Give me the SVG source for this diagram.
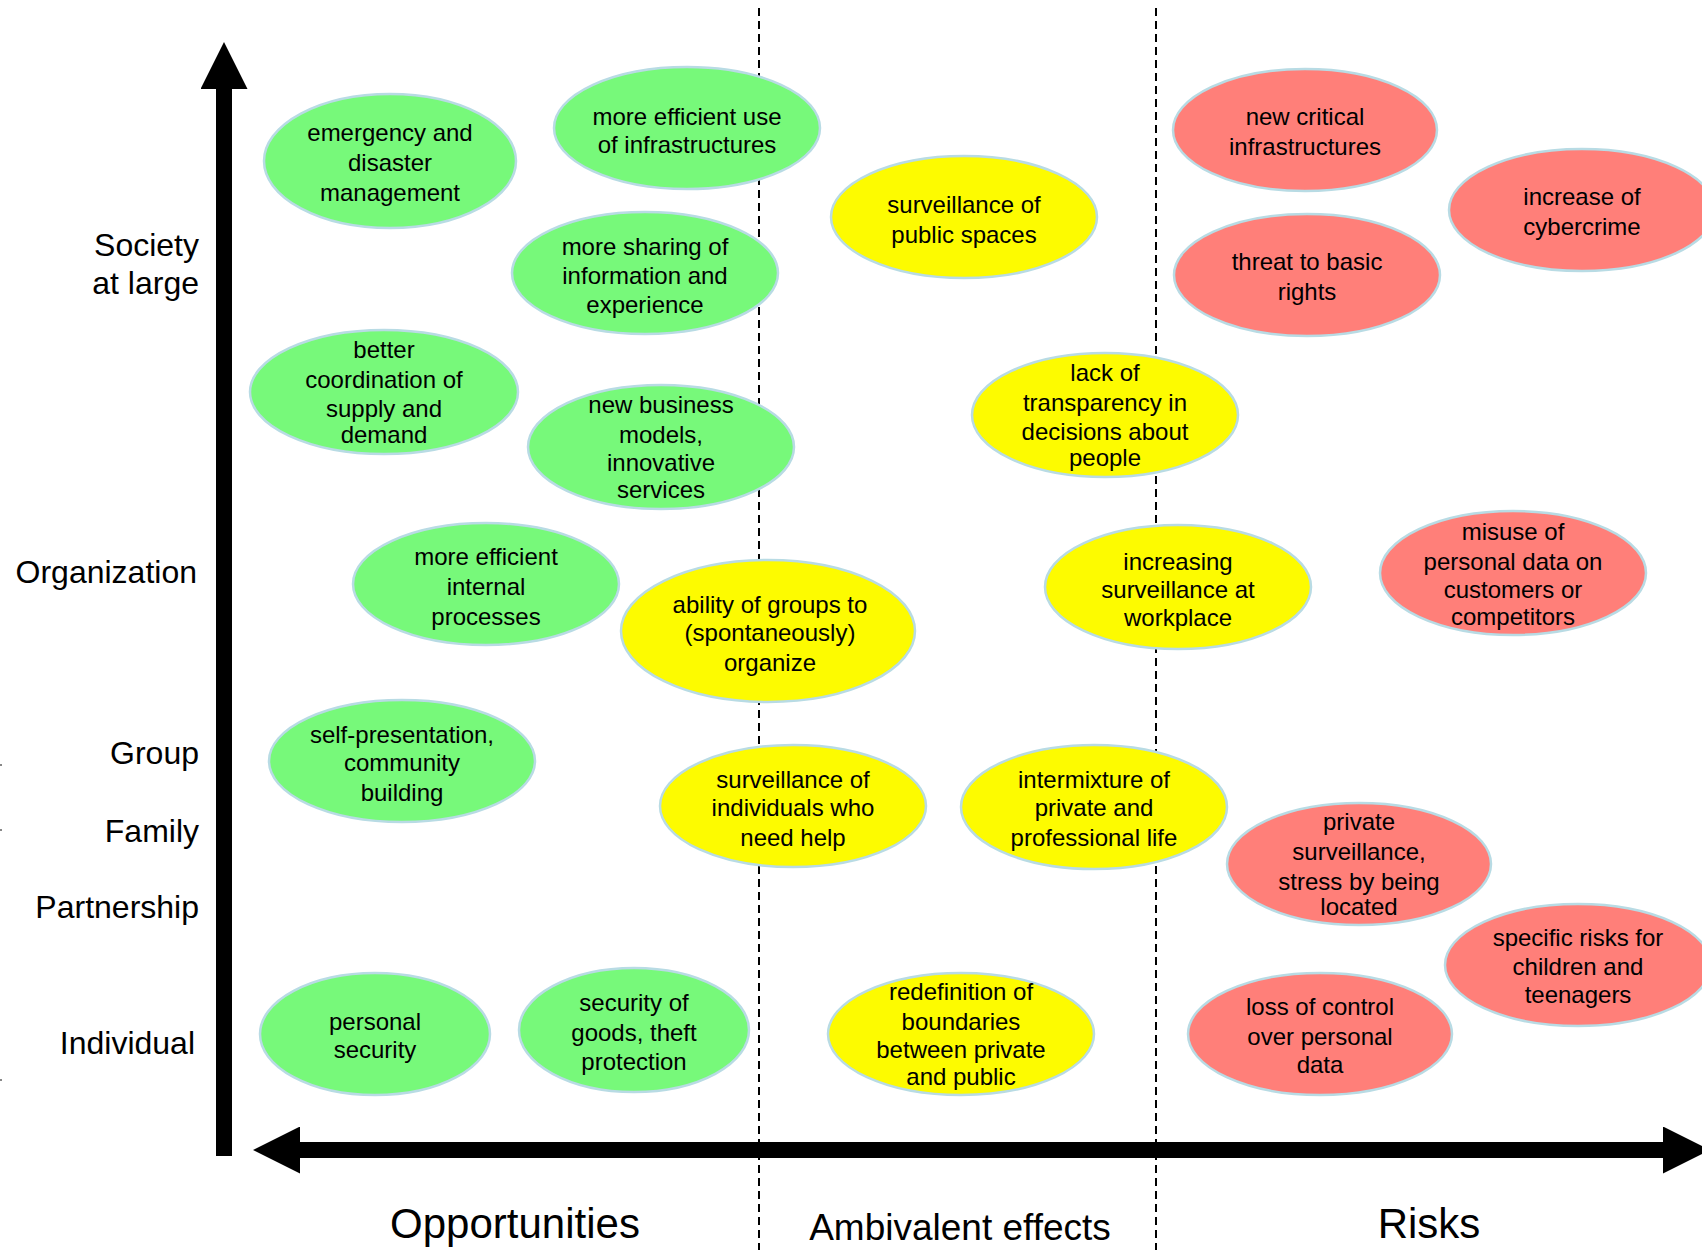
<svg xmlns="http://www.w3.org/2000/svg" width="1702" height="1250" viewBox="0 0 1702 1250">
<style>
  .n ellipse { stroke: #b8dbe4; stroke-width: 2.5; }
  .g ellipse { fill: #77f97a; }
  .y ellipse { fill: #fdfb00; }
  .r ellipse { fill: #ff7f79; }
  .n text { font-family: "Liberation Sans", Arial, sans-serif; font-size: 24px; fill: #000; text-anchor: middle; }
  .ax { font-family: "Liberation Sans", Arial, sans-serif; font-size: 32px; fill: #000; text-anchor: end; }
  .cat { font-family: "Liberation Sans", Arial, sans-serif; fill: #000; text-anchor: middle; }
  .dash { stroke: #000; stroke-width: 2; stroke-dasharray: 8 5; fill: none; }
  .axis { stroke: #000; stroke-width: 16; fill: none; }
</style>
<defs>
  <marker id="ah" viewBox="0 0 47 47" markerWidth="47" markerHeight="47" refX="1" refY="23.5" markerUnits="userSpaceOnUse" orient="auto-start-reverse">
    <path d="M0,0 L47,23.5 L0,47 z" fill="#000"/>
  </marker>
</defs>
<rect width="1702" height="1250" fill="#fff"/>

<g id="separators">
  <line class="dash" x1="759" y1="8" x2="759" y2="1250"/>
  <line class="dash" x1="1156" y1="8" x2="1156" y2="1250"/>
</g>

<g id="connectors">
  <line class="axis" x1="224" y1="1156" x2="224" y2="88" marker-end="url(#ah)"/>
  <line class="axis" x1="299" y1="1150" x2="1664" y2="1150" marker-start="url(#ah)" marker-end="url(#ah)"/>
</g>

<g id="axis-labels">
  <text class="ax" x="199" y="256">Society</text>
  <text class="ax" x="199" y="294">at large</text>
  <text class="ax" x="197" y="583">Organization</text>
  <text class="ax" x="199" y="764">Group</text>
  <text class="ax" x="199" y="842">Family</text>
  <text class="ax" x="199" y="918">Partnership</text>
  <text class="ax" x="195" y="1054">Individual</text>
  <rect x="0" y="764" width="2" height="2" fill="#888"/>
  <rect x="0" y="829" width="2" height="2" fill="#888"/>
  <rect x="0" y="1079" width="2" height="2" fill="#888"/>
</g>

<g id="category-labels">
  <text class="cat" x="515" y="1238" font-size="42">Opportunities</text>
  <text class="cat" x="960" y="1240" font-size="37">Ambivalent effects</text>
  <text class="cat" x="1429" y="1238" font-size="42">Risks</text>
</g>

<!-- Opportunities (green) -->
<g id="emergency" class="n g">
  <ellipse cx="390" cy="161" rx="126" ry="67"/>
  <text><tspan x="390" y="141">emergency and</tspan><tspan x="390" y="171">disaster</tspan><tspan x="390" y="201">management</tspan></text>
</g>
<g id="efficient-infrastructures" class="n g">
  <ellipse cx="687" cy="128" rx="133" ry="61"/>
  <text><tspan x="687" y="125">more efficient use</tspan><tspan x="687" y="153">of infrastructures</tspan></text>
</g>
<g id="sharing-information" class="n g">
  <ellipse cx="645" cy="273" rx="133" ry="61"/>
  <text><tspan x="645" y="255">more sharing of</tspan><tspan x="645" y="284">information and</tspan><tspan x="645" y="313">experience</tspan></text>
</g>
<g id="coordination-supply" class="n g">
  <ellipse cx="384" cy="392" rx="134" ry="62"/>
  <text><tspan x="384" y="358">better</tspan><tspan x="384" y="388">coordination of</tspan><tspan x="384" y="417">supply and</tspan><tspan x="384" y="443">demand</tspan></text>
</g>
<g id="business-models" class="n g">
  <ellipse cx="661" cy="447" rx="133" ry="62"/>
  <text><tspan x="661" y="413">new business</tspan><tspan x="661" y="443">models,</tspan><tspan x="661" y="471">innovative</tspan><tspan x="661" y="498">services</tspan></text>
</g>
<g id="internal-processes" class="n g">
  <ellipse cx="486" cy="584" rx="133" ry="61"/>
  <text><tspan x="486" y="565">more efficient</tspan><tspan x="486" y="595">internal</tspan><tspan x="486" y="625">processes</tspan></text>
</g>
<g id="self-presentation" class="n g">
  <ellipse cx="402" cy="761" rx="133" ry="61"/>
  <text><tspan x="402" y="743">self-presentation,</tspan><tspan x="402" y="771">community</tspan><tspan x="402" y="801">building</tspan></text>
</g>
<g id="personal-security" class="n g">
  <ellipse cx="375" cy="1034" rx="115" ry="61"/>
  <text><tspan x="375" y="1030">personal</tspan><tspan x="375" y="1058">security</tspan></text>
</g>
<g id="security-goods" class="n g">
  <ellipse cx="634" cy="1030" rx="115" ry="62"/>
  <text><tspan x="634" y="1011">security of</tspan><tspan x="634" y="1041">goods, theft</tspan><tspan x="634" y="1070">protection</tspan></text>
</g>

<!-- Ambivalent (yellow) -->
<g id="surveillance-public" class="n y">
  <ellipse cx="964" cy="217" rx="133" ry="61"/>
  <text><tspan x="964" y="213">surveillance of</tspan><tspan x="964" y="243">public spaces</tspan></text>
</g>
<g id="lack-transparency" class="n y">
  <ellipse cx="1105" cy="415" rx="133" ry="62"/>
  <text><tspan x="1105" y="381">lack of</tspan><tspan x="1105" y="411">transparency in</tspan><tspan x="1105" y="440">decisions about</tspan><tspan x="1105" y="466">people</tspan></text>
</g>
<g id="groups-organize" class="n y">
  <ellipse cx="768" cy="631" rx="147" ry="71"/>
  <text><tspan x="770" y="613">ability of groups to</tspan><tspan x="770" y="641">(spontaneously)</tspan><tspan x="770" y="671">organize</tspan></text>
</g>
<g id="surveillance-workplace" class="n y">
  <ellipse cx="1178" cy="587" rx="133" ry="62"/>
  <text><tspan x="1178" y="570">increasing</tspan><tspan x="1178" y="598">surveillance at</tspan><tspan x="1178" y="626">workplace</tspan></text>
</g>
<g id="surveillance-individuals" class="n y">
  <ellipse cx="793" cy="806" rx="133" ry="61"/>
  <text><tspan x="793" y="788">surveillance of</tspan><tspan x="793" y="816">individuals who</tspan><tspan x="793" y="846">need help</tspan></text>
</g>
<g id="intermixture" class="n y">
  <ellipse cx="1094" cy="807" rx="133" ry="62"/>
  <text><tspan x="1094" y="788">intermixture of</tspan><tspan x="1094" y="816">private and</tspan><tspan x="1094" y="846">professional life</tspan></text>
</g>
<g id="redefinition-boundaries" class="n y">
  <ellipse cx="961" cy="1034" rx="133" ry="61"/>
  <text><tspan x="961" y="1000">redefinition of</tspan><tspan x="961" y="1030">boundaries</tspan><tspan x="961" y="1058">between private</tspan><tspan x="961" y="1085">and public</tspan></text>
</g>

<!-- Risks (red) -->
<g id="critical-infrastructures" class="n r">
  <ellipse cx="1305" cy="130" rx="132" ry="61"/>
  <text><tspan x="1305" y="125">new critical</tspan><tspan x="1305" y="155">infrastructures</tspan></text>
</g>
<g id="cybercrime" class="n r">
  <ellipse cx="1582" cy="210" rx="133" ry="61"/>
  <text><tspan x="1582" y="205">increase of</tspan><tspan x="1582" y="235">cybercrime</tspan></text>
</g>
<g id="basic-rights" class="n r">
  <ellipse cx="1307" cy="275" rx="133" ry="61"/>
  <text><tspan x="1307" y="270">threat to basic</tspan><tspan x="1307" y="300">rights</tspan></text>
</g>
<g id="misuse-data" class="n r">
  <ellipse cx="1513" cy="573" rx="133" ry="62"/>
  <text><tspan x="1513" y="540">misuse of</tspan><tspan x="1513" y="570">personal data on</tspan><tspan x="1513" y="598">customers or</tspan><tspan x="1513" y="625">competitors</tspan></text>
</g>
<g id="private-surveillance" class="n r">
  <ellipse cx="1359" cy="864" rx="132" ry="61"/>
  <text><tspan x="1359" y="830">private</tspan><tspan x="1359" y="860">surveillance,</tspan><tspan x="1359" y="890">stress by being</tspan><tspan x="1359" y="915">located</tspan></text>
</g>
<g id="children-risks" class="n r">
  <ellipse cx="1578" cy="965" rx="133" ry="61"/>
  <text><tspan x="1578" y="946">specific risks for</tspan><tspan x="1578" y="975">children and</tspan><tspan x="1578" y="1003">teenagers</tspan></text>
</g>
<g id="loss-control" class="n r">
  <ellipse cx="1320" cy="1034" rx="132" ry="61"/>
  <text><tspan x="1320" y="1015">loss of control</tspan><tspan x="1320" y="1045">over personal</tspan><tspan x="1320" y="1073">data</tspan></text>
</g>
</svg>
